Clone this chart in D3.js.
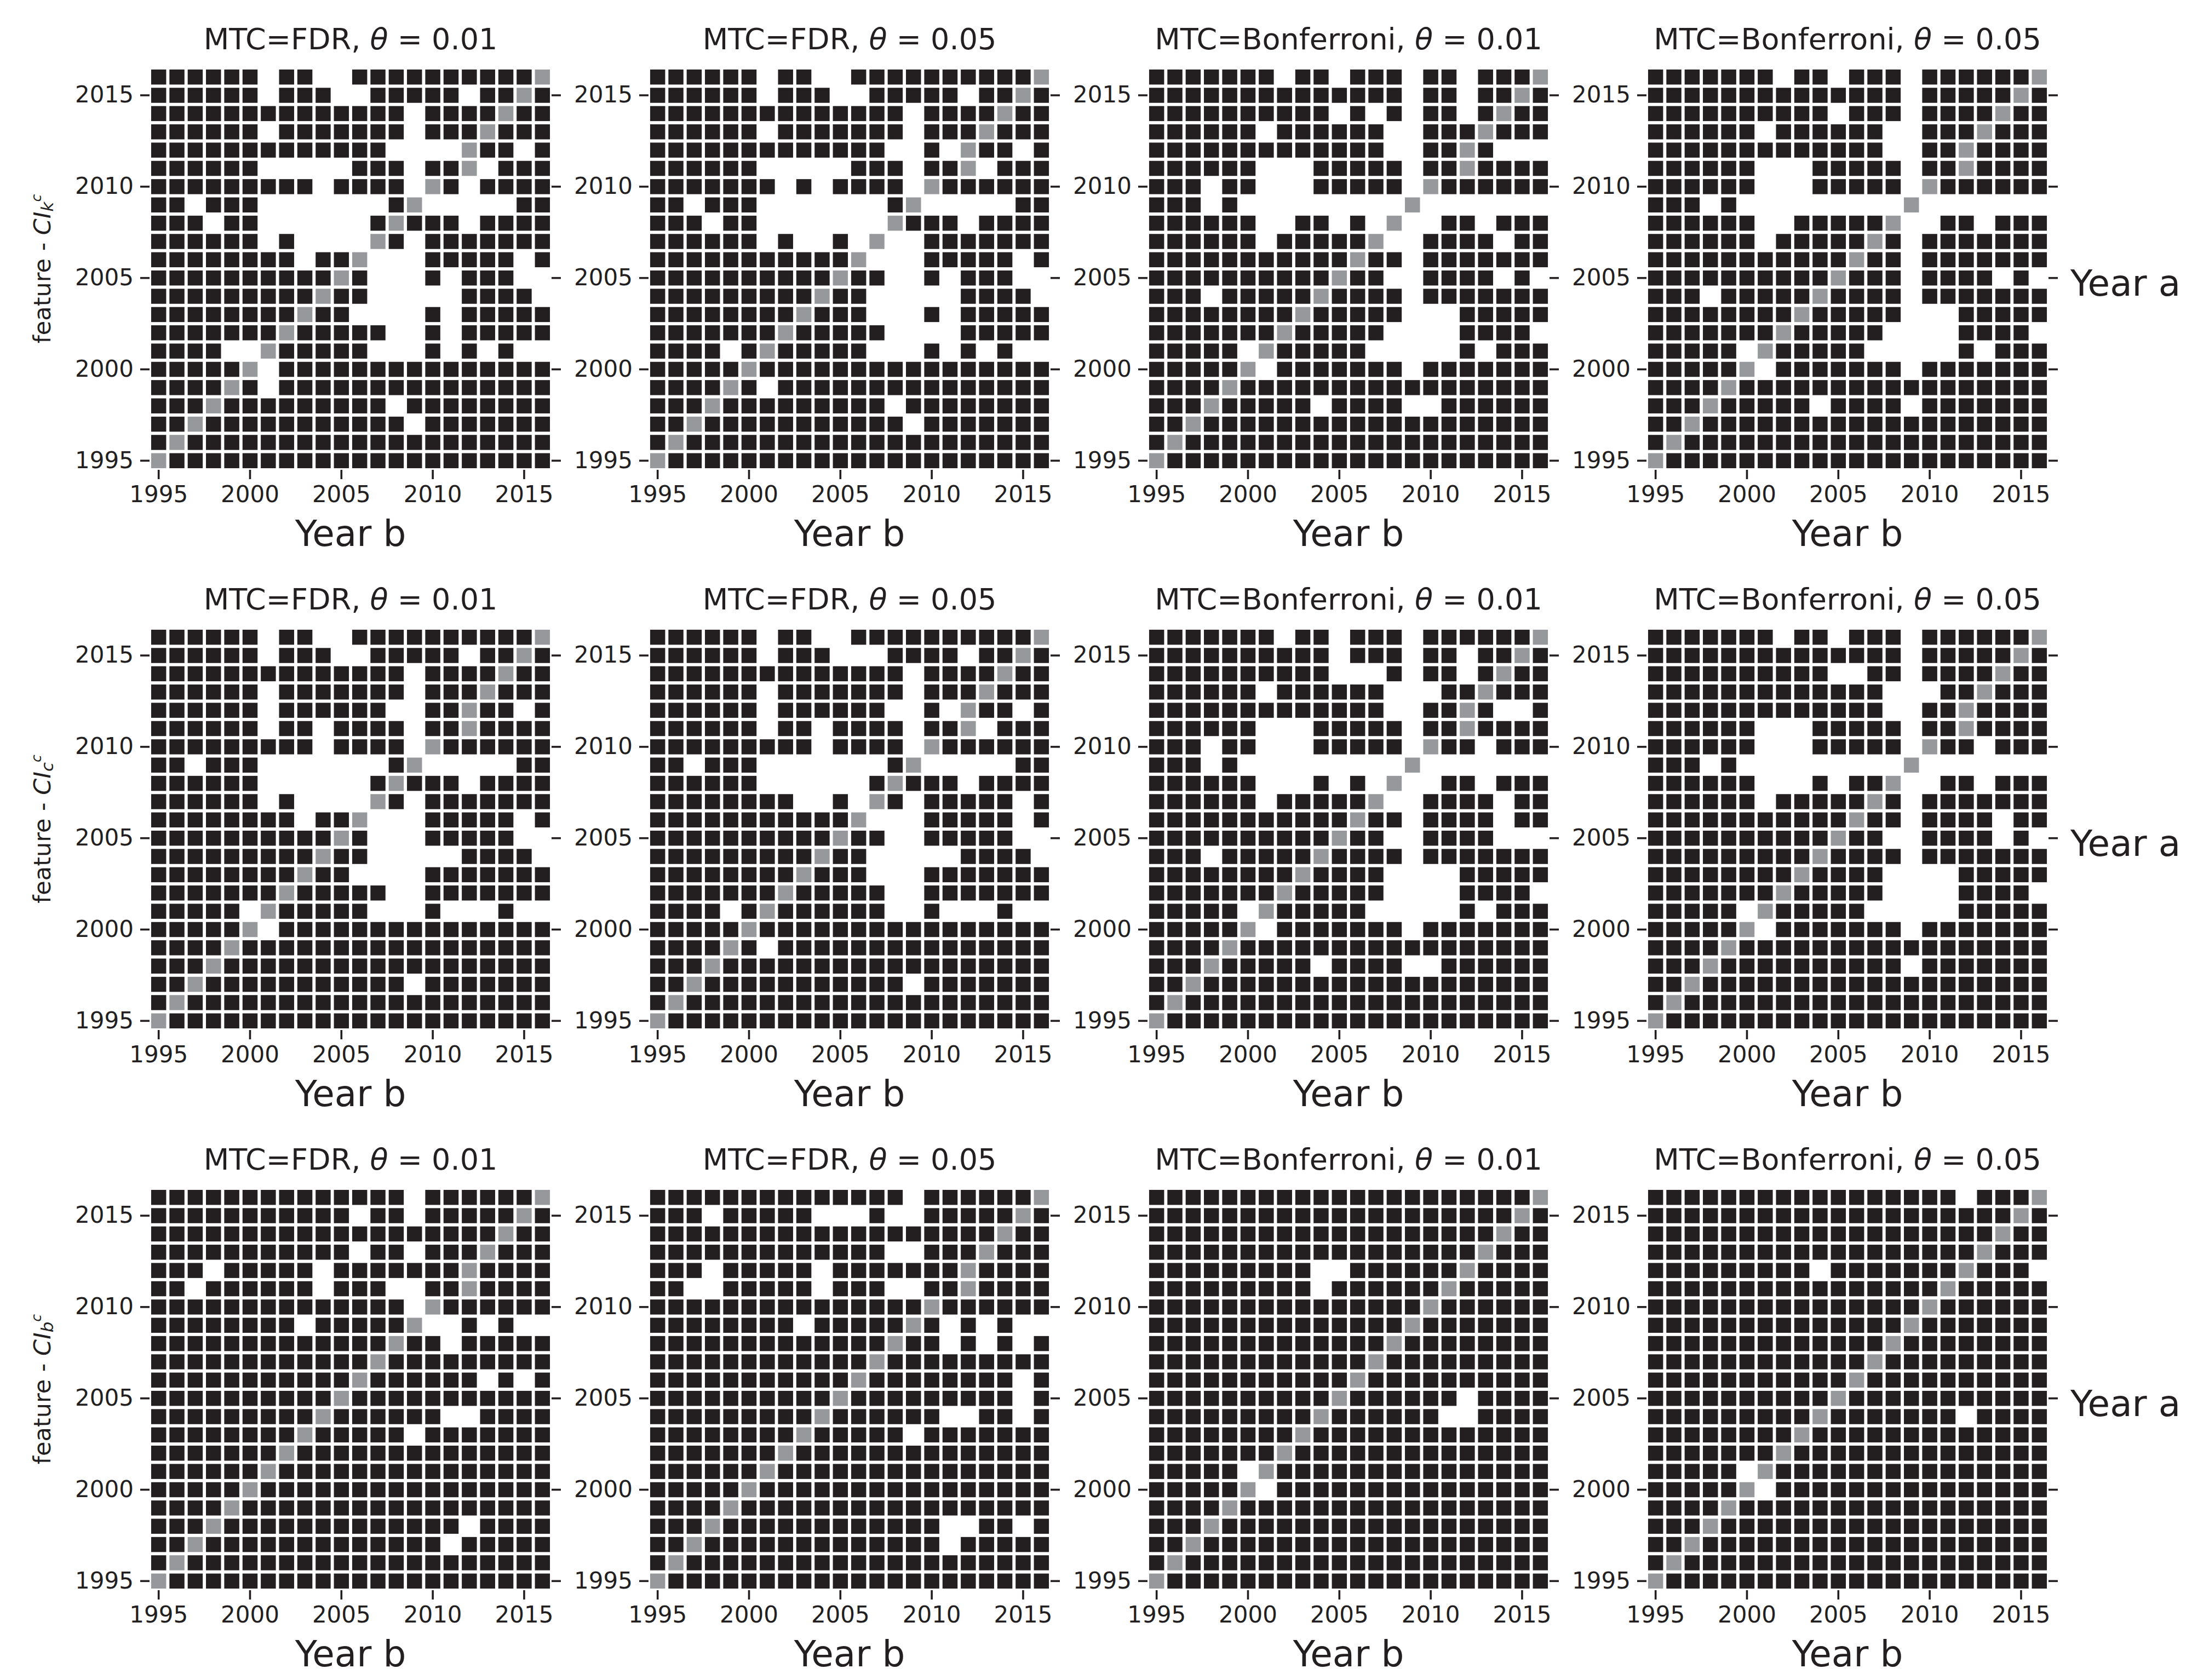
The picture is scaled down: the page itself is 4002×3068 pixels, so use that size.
<!DOCTYPE html>
<html>
<head>
<meta charset="utf-8">
<script src="https://cdn.jsdelivr.net/npm/d3@7/dist/d3.min.js"></script>
<style>
  body { margin: 0; background: #ffffff; }
  svg { display: block; }
  text { font-family: "DejaVu Sans", sans-serif; fill: #231f20; }
</style>
</head>
<body>
<svg id="chart" width="4002" height="3068"></svg>
<script>
// ---------------- DATA ----------------
const years = [1995,1996,1997,1998,1999,2000,2001,2002,2003,2004,2005,2006,2007,2008,2009,2010,2011,2012,2013,2014,2015,2016];
const rowYears = [2016,2015,2014,2013,2012,2011,2010,2009,2008,2007,2006,2005,2004,2003,2002,2001,2000,1999,1998,1997,1996,1995];
const tickYears = [1995, 2000, 2005, 2010, 2015];
const features = ["k", "c", "b"];
const mtcNames = ["FDR", "FDR", "Bonferroni", "Bonferroni"];
const thetaValues = ["0.01", "0.05", "0.01", "0.05"];
// cell codes: 0 = not significant (white), 1 = significant (dark), 2 = same year (grey)
// each string is one row (Year a), from 2016 at the top down to 1995; characters run over Year b 1995..2016

const kc_fdr_001 = [
"1111110110011111111112","1111110111001111101121","1111111111111101111211","1111110111111101112111",
"1111111111111000021101","1111110000011101120111","1111111110111102101111","1101110000000120000011",
"1110110000001211101111","1111110100002101111111","1111111101120001111101","1111111111210001011100",
"1111111112110000011110","1111111121100001011111","1111111211111001011111","1111002111110001010100",
"1111120111111111111111","1111210111111111111111","1112111111111011111111","1121111111111101111111",
"1211111111111111111111","2111111111111111111111"];
const kc_fdr_005 = [
"1111110110011111111112","1111110111001111101121","1111111111111101111211","1111110111111101112111",
"1111111111111001021101","1111110000011101120111","1111111010111102111111","1101110000000120000011",
"1110110000000211101111","1111110100102001111111","1111111111120001111101","1111111111211001011100",
"1111111112110000011110","1111111121110001011111","1111111211111000011111","1111012111110001010100",
"1111121111111111111111","1111210111111111111111","1112111111111011111111","1121111111111101111111",
"1211111111111111111111","2111111111111111111111"];
const kc_bon_001 = [
"1111111011011101101112","1111111111111101101121","1111111111010101101211","1111110111111001112111",
"1111111111111001121000","1111110001111101121111","1110110001111102111111","1110100000000020000000",
"1111110011010200110111","1111110111112001111011","1111111111121101111111","1111111111211001111010",
"1110111112111101111111","1111111121111100011111","1111111211111000011110","1111102111110000010111",
"1111120111111101111111","1111211111111111111111","1112111110111100111111","1121111111111111111111",
"1211111111111111111111","2111111111111111111111"];
const kc_bon_005 = [
"1111111011011101111112","1111111111111101111121","1111111111011101111211","1111110111111001112111",
"1111111111111001121111","1111110001111101121111","1111110001111102111111","1110100000000020000000",
"1111110011111200110111","1111110111112101111111","1111111111121101111111","1111111111211101111010",
"1110111112111101111111","1111111121111100011111","1111111211111000011110","1111102111110000010111",
"1111120111111101111111","1111211111111111111111","1112111110111101111111","1121111111111111111111",
"1211111111111111111111","2111111111111111111111"];
const cc_fdr_001 = [
"1111110110011111111112","1111110111001111101121","1111111111111101111211","1111110111111101112111",
"1111110111111001121101","1111110110111101121111","1111111110111102111111","1101110000000120000011",
"1111110000001211101111","1111110100002101111111","1111111101120001111101","1111111111210001111100",
"1111111112110000011110","1111111121100001111111","1111111211111001111111","1111102111110001000100",
"1111120111111111111111","1111211111111111111111","1112111111111111111111","1121111111111101111111",
"1211111111111111111111","2111111111111111111111"];
const cc_fdr_005 = [
"1111110110011111111112","1111110111000111101121","1111111111111101111211","1111110111111101112111",
"1111110111111001021101","1111110110111101120111","1111111110111102111111","1101110000000120000011",
"1111110000001211101111","1111111100102101111101","1111111111120001111101","1111111111211001111100",
"1111111112110000011110","1111111121110001111111","1111111211111001111111","1111012111111001000100",
"1111121111111111111111","1111210111111111111111","1112111111111111111111","1121111111111101111111",
"1211111111111111111111","2111111111111111111111"];
const cc_bon_001 = [
"1111111011011101111112","1111111111011101101121","1111111111000101101211","1111110111111000112111",
"1111111111111001121001","1111110001111101121111","1110110001111102110111","1110100000000020000000",
"1111110001010200110111","1111110111112001111011","1111111111121101111011","1111111111211001111000",
"1110111112111101111111","1111111121111000011111","1111111211111000011110","1111102111110000010111",
"1111120111111101111111","1111211111111111111111","1112111110111100111111","1121111111111111111111",
"1211111111111111111111","2111111111111111111111"];
const cc_bon_005 = [
"1111111011011101111112","1111111111111101111121","1111111111001101111211","1111111111111000112111",
"1111111111111001121111","1111110001111101121111","1111110001111102110111","1110100000000020000000",
"1111110001011200110111","1111110111112101111111","1111111111121101111011","1111111111211001111010",
"1111111112111101111111","1111111121111000011111","1111111211111000011110","1111102111110000011111",
"1111120111111101111111","1111211111111111111111","1112111111111101111111","1121111111111111111111",
"1211111111111111111111","2111111111111111111111"];
const bc_fdr_001 = [
"1111111111111101111112","1111111111101101111121","1111111111111111111211","1111111111101101112111",
"1110111110111111121111","1101111110111001121111","1111111111111102111111","1111111101111120010100",
"1111111111111211011111","1111111111112111111111","1111111111121111110101","1111111111211111111111",
"1111111112111111001111","1111111121111101111111","1111111211111111111111","1111112111111111111111",
"1111121111111111111111","1111211111111111111111","1112111111111111101111","1121111111111111011111",
"1211111111111111111111","2111111111111111111111"];
const bc_fdr_005 = [
"1111111111111101111112","1110111110001001111121","1111111111111111111211","1111111111111001112111",
"1110111110111111121111","1100111110111001121111","1111111111111112111111","1111111101111121010100",
"1111111111111211010101","1111111111112111111111","1111111111121111111101","1111111111211111111101",
"1111111112111111001101","1111111121111101111111","1111111211111111111111","1111112111111111111111",
"1111121111111111111111","1111211111111111111111","1112111111111111001101","1121111111111111011111",
"1211111111111111111111","2111111111111111111111"];
const bc_bon_001 = [
"1111111111111111111112","1111111111111111111121","1111111111111111111211","1111111111111111112111",
"1111111110011111121111","1111111110111111211111","1111111111111112111111","1111111111111121111111",
"1111111111111211111111","1111111111112111111111","1111111111121111111111","1111111111211111101111",
"1111111112111111001111","1111111121111111111111","1111111211111111111111","1111102111111111111111",
"1111120111111111111111","1111211111111111111111","1112111111111111111111","1121111111111111111111",
"1211111111111111111111","2111111111111111111111"];
const bc_bon_005 = [
"1111111111111111101112","1111111111111111111121","1111111111111111111211","1111111111111111112111",
"1111111110111111121110","1111111111111111211111","1111111111111112111111","1111111111111121111111",
"1111111111111211111111","1111111111112111111111","1111111111121111111111","1111111111211111111111",
"1111111112111111101111","1111111121111111111111","1111111211111111111111","1111102111111111111111",
"1111120111111111111111","1111211111111111111111","1112111111111111111111","1121111111111111111111",
"1211111111111111111111","2111111111111111111111"];

const grid = [
  [kc_fdr_001, kc_fdr_005, kc_bon_001, kc_bon_005],
  [cc_fdr_001, cc_fdr_005, cc_bon_001, cc_bon_005],
  [bc_fdr_001, bc_fdr_005, bc_bon_001, bc_bon_005]
];

// ---------------- LAYOUT ----------------
const svg = d3.select("#chart");
const size = 734;
const left0 = 273, colStep = 911;
const top0 = 124, rowStep = 1023;
const gap = 5.9;
const ink = "#231f20";

const x = d3.scaleBand().domain(years).range([0, size]);
const y = d3.scaleBand().domain(rowYears).range([0, size]);
const color = d3.scaleOrdinal().domain(["0", "1", "2"]).range(["#ffffff", "#231f20", "#97989c"]);

function styleAxis(sel, fontSize) {
  sel.select(".domain").remove();
  sel.selectAll(".tick line").attr("stroke", ink).attr("stroke-width", 3.6);
  sel.selectAll(".tick text").attr("fill", ink).style("font-size", fontSize + "px")
     .style("font-family", '"DejaVu Sans", sans-serif');
}

grid.forEach((rowPanels, r) => {
  rowPanels.forEach((rows, c) => {
    const g = svg.append("g")
      .attr("transform", `translate(${left0 + c * colStep},${top0 + r * rowStep})`);

    const cells = [];
    rows.forEach((s, ri) => {
      s.split("").forEach((ch, ci) => cells.push({ a: rowYears[ri], b: years[ci], v: ch }));
    });

    g.append("g").selectAll("rect")
      .data(cells)
      .join("rect")
      .attr("x", d => x(d.b) + gap / 2)
      .attr("y", d => y(d.a) + gap / 2)
      .attr("width", x.bandwidth() - gap)
      .attr("height", y.bandwidth() - gap)
      .attr("fill", d => color(d.v));

    // bottom axis
    g.append("g").attr("transform", `translate(0,${size})`)
      .call(d3.axisBottom(x).tickValues(tickYears).tickSize(17).tickPadding(12))
      .call(s => styleAxis(s, 42));
    // left axis
    g.append("g")
      .call(d3.axisLeft(y).tickValues(tickYears).tickSize(17).tickPadding(12))
      .call(s => styleAxis(s, 42));
    // right axis (ticks only)
    g.append("g").attr("transform", `translate(${size},0)`)
      .call(d3.axisRight(y).tickValues(tickYears).tickSize(17).tickFormat(""))
      .call(s => styleAxis(s, 42));

    // title
    const t = g.append("text")
      .attr("x", size / 2).attr("y", -34)
      .attr("text-anchor", "middle")
      .style("font-size", "54px");
    t.append("tspan").text(`MTC=${mtcNames[c]}, `);
    t.append("tspan").style("font-style", "italic").text("θ");
    t.append("tspan").text(` = ${thetaValues[c]}`);

    // x label
    g.append("text")
      .attr("x", size / 2).attr("y", size + 139)
      .attr("text-anchor", "middle")
      .style("font-size", "66px")
      .text("Year b");

    // row label on right
    if (c === 3) {
      g.append("text")
        .attr("x", size + 40).attr("y", size / 2 + 26)
        .attr("dominant-baseline", "central")
        .style("font-size", "66px")
        .text("Year a");
    }

    // y label on left
    if (c === 0) {
      const yl = g.append("text")
        .attr("transform", `translate(${77 - left0},${size / 2}) rotate(-90)`)
        .attr("text-anchor", "middle")
        .attr("dominant-baseline", "central")
        .style("font-size", "43px");
      yl.append("tspan").text("feature - ");
      yl.append("tspan").style("font-style", "italic").text("CI");
      yl.append("tspan").style("font-style", "italic").style("font-size", "31px").attr("dy", 9).text(features[r]);
      yl.append("tspan").style("font-style", "italic").style("font-size", "25px").attr("dy", -20).text("c");
    }
  });
});
</script>
</body>
</html>
